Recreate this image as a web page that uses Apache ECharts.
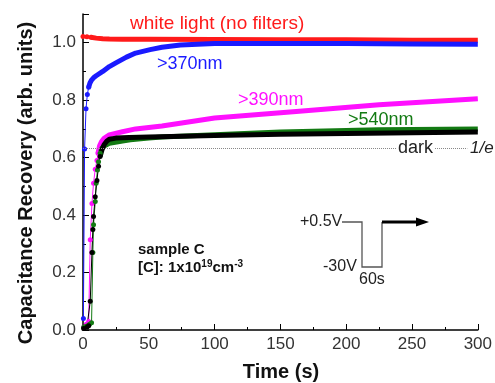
<!DOCTYPE html>
<html>
<head>
<meta charset="utf-8">
<script src="https://cdn.jsdelivr.net/npm/echarts@6/dist/echarts.min.js"></script>
<style>
html,body{margin:0;padding:0;background:#fff}
#chart{width:495px;height:383px}
</style>
</head>
<body>
<div id="chart"></div>
<script>
// [time (s), capacitance recovery]
var white = [[0,1.022],[3,1.021],[6,1.019],[10,1.016],[15,1.014],[20,1.013],[30,1.012],[50,1.012],[100,1.011],[150,1.010],[200,1.010],[250,1.009],[300,1.009]];
var nm370 = [[0.3,0.04],[1.2,0.63],[2.3,0.77],[3.3,0.82],[4.3,0.845],[5.3,0.86],[6.5,0.87],[8,0.878],[10,0.885],[15,0.90],[20,0.917],[25,0.93],[33,0.95],[40,0.964],[51,0.976],[60,0.984],[74,0.992],[100,0.997],[150,0.997],[200,0.997],[250,0.996],[300,0.995]];
var nm390 = [[0.5,0.01],[2.5,0.02],[4.3,0.03],[5.5,0.314],[6.8,0.44],[8,0.511],[9.3,0.56],[10.6,0.59],[11.4,0.615],[12.6,0.641],[14,0.655],[16,0.667],[20,0.679],[30,0.69],[40,0.70],[60,0.71],[100,0.738],[162,0.761],[225,0.784],[300,0.805]];
var nm540 = [[0.5,0.01],[2,0.012],[3.5,0.015],[5,0.02],[6.5,0.025],[7.5,0.27],[8,0.366],[9.3,0.447],[10,0.511],[11,0.557],[11.8,0.586],[13,0.615],[14.4,0.633],[16,0.64],[20,0.65],[30,0.658],[36,0.662],[50,0.668],[60,0.672],[100,0.68],[150,0.689],[225,0.697],[300,0.70]];
var dark = [[0.5,0.005],[3,0.01],[4.3,0.015],[5.5,0.10],[6.8,0.27],[7.5,0.35],[8,0.395],[9.3,0.464],[10.6,0.52],[11.8,0.57],[13,0.604],[14.5,0.628],[16,0.645],[18,0.657],[20,0.664],[25,0.668],[35,0.67],[50,0.672],[100,0.677],[150,0.681],[200,0.684],[250,0.687],[300,0.689]];
// time after which the dots merge into a solid band
var mergeAt = {white: 6, nm370: 5, nm390: 12.5, nm540: 13.5, dark: 13};
var oneOverE = 0.632;
var lineEnd = 292;

var chart = echarts.init(document.getElementById('chart'));
var font = '"Liberation Sans", Arial, sans-serif';

function curve(name, data, color, from) {
	// dots up to the merge time, solid band from the last dot onward
	var dots = data.filter(function (p) { return p[0] <= from; });
	var band = data.slice(Math.max(dots.length - 1, 0));
	return [
		{
			name: name,
			type: 'line',
			data: dots,
			symbol: 'circle',
			symbolSize: 5,
			showAllSymbol: true,
			itemStyle: {color: color},
			lineStyle: {color: color, width: 1},
			animation: false
		},
		{
			name: name,
			type: 'line',
			data: band,
			showSymbol: false,
			lineStyle: {color: color, width: 5},
			animation: false
		}
	];
}

var series = [].concat(
	curve('white', white, '#ff1a1a', mergeAt.white),
	curve('370', nm370, '#1a1aff', mergeAt.nm370),
	curve('390', nm390, '#ff10ff', mergeAt.nm390),
	curve('540', nm540, '#137a13', mergeAt.nm540),
	curve('dark', dark, '#000000', mergeAt.dark)
);
// 1/e guide line
series.push({
	type: 'line',
	data: [],
	markLine: {
		silent: true,
		symbol: 'none',
		label: {show: false},
		lineStyle: {type: 'dotted', color: '#888', width: 1},
		data: [[{coord: [0, oneOverE]}, {coord: [lineEnd, oneOverE]}]]
	},
	z: 1
});

var txt = function (x, y, text, color, size, extra) {
	var s = {x: x, y: y, text: text, fill: color, font: size + 'px ' + font, textVerticalAlign: 'middle'};
	for (var k in extra) s[k] = extra[k];
	return {type: 'text', z: 100, style: s};
};

option = {
	animation: false,
	grid: {left: 83, right: 16, top: 14, bottom: 53},
	xAxis: {
		type: 'value', min: 0, max: 300, interval: 50,
		axisLine: {lineStyle: {color: '#000', width: 1.5}},
		axisTick: {inside: true, length: 6, lineStyle: {color: '#000'}},
		minorTick: {show: true, splitNumber: 2, length: 3, lineStyle: {color: '#000'}},
		splitLine: {show: false},
		axisLabel: {color: '#333', fontSize: 17, fontFamily: font, margin: 6}
	},
	yAxis: {
		type: 'value', min: 0, max: 1.1, interval: 0.2,
		axisLine: {show: true, lineStyle: {color: '#000', width: 1.5}},
		axisTick: {show: true, inside: true, length: 6, lineStyle: {color: '#000'}},
		minorTick: {show: true, splitNumber: 2, length: 3, lineStyle: {color: '#000'}},
		splitLine: {show: false},
		axisLabel: {color: '#333', fontSize: 17, fontFamily: font, margin: 7, showMaxLabel: false,
			formatter: function (v) { return v.toFixed(1); }}
	},
	graphic: [
		{type: 'text', z: 100, x: 26, y: 183, rotation: Math.PI / 2,
			style: {text: 'Capacitance Recovery (arb. units)', fill: '#111', font: 'bold 20px ' + font,
				textAlign: 'center', textVerticalAlign: 'middle'}},
		txt(281, 372, 'Time (s)', '#111', 20, {font: 'bold 20px ' + font, textAlign: 'center'}),
		txt(130, 24, 'white light (no filters)', '#ff1a1a', 19),
		txt(157, 64, '>370nm', '#1a1aff', 18),
		txt(238, 100, '>390nm', '#ff10ff', 18),
		txt(348, 120, '>540nm', '#137a13', 18),
		txt(396, 148, 'dark', '#222', 18, {backgroundColor: '#fff', padding: [0, 2]}),
		txt(470, 148, '1/e', '#222', 16, {font: 'italic 17px ' + font}),
		txt(138, 250, 'sample C', '#111', 15, {font: 'bold 15px ' + font}),
		{type: 'text', z: 100, x: 138, y: 268,
			style: {text: '{b|[C]: 1x10}{s|19}{b|cm}{s|-3}', textVerticalAlign: 'middle',
				rich: {
					b: {font: 'bold 15px ' + font, fill: '#111', lineHeight: 18},
					s: {font: 'bold 10px ' + font, fill: '#111', verticalAlign: 'top', lineHeight: 18, padding: [0, 0, 8, 0]}
				}}},
		// bias pulse sketch
		txt(300, 222, '+0.5V', '#222', 16),
		txt(323, 267, '-30V', '#222', 16),
		txt(359, 280, '60s', '#222', 16),
		{type: 'polyline', z: 100, shape: {points: [[342, 222], [362, 222], [362, 267], [382, 267], [382, 222]]},
			style: {stroke: '#555', lineWidth: 1.3, fill: null}},
		{type: 'line', z: 100, shape: {x1: 382, y1: 222, x2: 418, y2: 222},
			style: {stroke: '#000', lineWidth: 3}},
		{type: 'polygon', z: 100, shape: {points: [[416, 217.5], [429, 222], [416, 226.5]]},
			style: {fill: '#000'}}
	],
	series: series
};

chart.setOption(option);
window.onresize = function () {
	chart.resize();
};
</script>
</body>
</html>
